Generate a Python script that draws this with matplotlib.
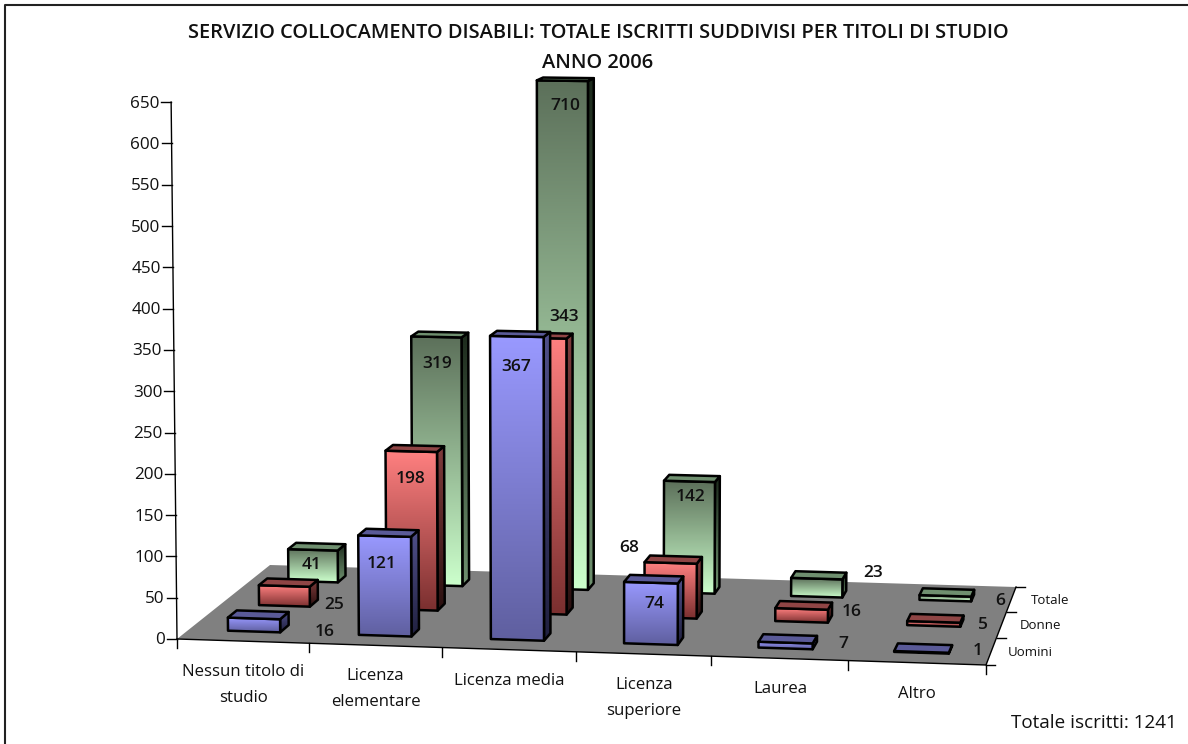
import matplotlib
matplotlib.use('Agg')
import matplotlib.pyplot as plt
from matplotlib.colors import to_rgb
from matplotlib.patches import Polygon
import numpy as np

# Chart values
categories = ['Nessun titolo di\nstudio', 'Licenza\nelementare', 'Licenza media',
              'Licenza\nsuperiore', 'Laurea', 'Altro']
series_names = ['Uomini', 'Donne', 'Totale']
uomini = [16, 121, 367, 74, 7, 1]
donne = [25, 198, 343, 68, 16, 5]
totale = [41, 319, 710, 142, 23, 6]
y_ticks = list(range(0, 651, 50))
axis_max = 650
total_note = 'Totale iscritti: 1241'
title_lines = ['SERVIZIO COLLOCAMENTO DISABILI: TOTALE ISCRITTI SUDDIVISI PER TITOLI DI STUDIO',
               'ANNO 2006']

# Label positions, in picture pixels
label_xy_uomini = [(325, 632), (382, 564), (516, 367), (654, 604), (843, 644), (978, 651)]
label_xy_donne = [(334, 605), (411, 479), (564, 317), (629, 548), (852, 612), (983, 625)]
label_xy_totale = [(312, 565), (437, 364), (565, 106), (691, 497), (873, 573), (1000, 601)]

# Face colours: front top/bottom, side top/bottom, top face
styles = {
    'Uomini': ('#9999ff', '#5f5f9f', '#50508a', '#20203f', '#5a5a98'),
    'Donne': ('#ff8080', '#7a2f2f', '#803c3c', '#2a1010', '#8f4545'),
    'Totale': ('#5c705a', '#ccffcc', '#1c2a1c', '#6f916f', '#6f8f6f'),
}

FONT = 'Open Sans'
plt.rcParams['font.family'] = [FONT, 'DejaVu Sans']

# Floor corners of the 3D box, (u, v) -> picture pixels
floor_uv = [(0, 0), (6, 0), (6, 3), (0, 3)]
floor_px = [(177, 639), (986, 665), (1016, 587), (270, 565)]


def fit_floor(uv, px):
    rows, rhs = [], []
    for (u, v), (x, y) in zip(uv, px):
        rows.append([u, v, 1, 0, 0, 0, -u * x, -v * x])
        rows.append([0, 0, 0, u, v, 1, -u * y, -v * y])
        rhs += [x, y]
    return np.append(np.linalg.solve(np.array(rows, float), np.array(rhs, float)), 1).reshape(3, 3)


H = fit_floor(floor_uv, floor_px)


# Category/series position and value to pixels
def project(u, v, h=0):
    x, y, w = H @ np.array([u, v, 1.0])
    x, y = x / w, y / w
    return (x + (x - 590) * 0.0142 * h / axis_max, y - h * 0.826 / w)


def gradient_face(ax, poly, top, bottom, z):
    poly = np.array(poly)
    c0, c1 = np.array(to_rgb(top)), np.array(to_rgb(bottom))
    t = np.linspace(0, 1, 128)[:, None, None]
    grad = c0[None, None, :] * (1 - t) + c1[None, None, :] * t
    im = ax.imshow(grad, extent=(poly[:, 0].min(), poly[:, 0].max(), poly[:, 1].max(), poly[:, 1].min()),
                   aspect='auto', interpolation='bilinear', zorder=z)
    im.set_clip_path(Polygon(poly, transform=ax.transData))
    ax.add_patch(Polygon(poly, closed=True, fill=False, edgecolor='black', linewidth=1.8,
                         joinstyle='round', zorder=z + 0.5))


def draw_bar(ax, cat, ser, value, style, z):
    h = min(value, axis_max)
    u0, u1 = cat + 0.30, cat + 0.70
    v0, v1 = ser + 0.36, ser + 0.64
    front = [project(u0, v0, h), project(u1, v0, h), project(u1, v0), project(u0, v0)]
    side = [project(u1, v0, h), project(u1, v1, h), project(u1, v1), project(u1, v0)]
    top = [project(u0, v0, h), project(u0, v1, h), project(u1, v1, h), project(u1, v0, h)]
    gradient_face(ax, side, style[2], style[3], z)
    gradient_face(ax, front, style[0], style[1], z + 1)
    ax.add_patch(Polygon(top, closed=True, facecolor=style[4], edgecolor='black', linewidth=1.8,
                         joinstyle='round', zorder=z + 2))


def main():
    fig = plt.figure(figsize=(11.88, 7.44), dpi=100)
    ax = fig.add_axes([0, 0, 1, 1])
    ax.set_axis_off()

    # Outer frame, only the top and left sides fall inside the picture
    ax.plot([5, 5, 1188], [744, 5, 5], color='#222222', lw=1.5, zorder=1)

    # Floor
    ax.add_patch(Polygon(floor_px, closed=True, facecolor='#808080', edgecolor='none', zorder=2))
    ax.plot(*zip(floor_px[0], floor_px[1], floor_px[2]), color='black', lw=1.0, zorder=3)

    # Value axis
    ax.plot(*zip(project(0, 0), project(0, 0, axis_max)), color='black', lw=1.0, zorder=3)
    for tick in y_ticks:
        x, y = project(0, 0, tick)
        ax.plot([x - 10, x], [y, y], color='black', lw=1.0, zorder=3)
        ax.text(x - 12, y + 1.5, str(tick), ha='right', va='center', fontsize=12.3, color='#111111')

    # Category axis
    for i in range(len(categories) + 1):
        x, y = project(i, 0)
        ax.plot([x, x], [y, y + 9], color='black', lw=1.0, zorder=3)
    for i, name in enumerate(categories):
        x, y = project(i + 0.5, 0)
        for j, line in enumerate(name.split('\n')):
            ax.text(x + 0.5, y + 31 + j * 26, line, ha='center', va='center', fontsize=12.1, color='#111111')

    # Series axis
    for i in range(len(series_names) + 1):
        x, y = project(6, i)
        ax.plot([x, x + 9], [y, y], color='black', lw=1.0, zorder=3)
    for i, name in enumerate(series_names):
        x, y = project(6, i + 0.5)
        ax.text(x + 39, y + 1, name, ha='center', va='center', fontsize=9.5, color='#111111')

    # Bars, from back to front
    rows = [('Totale', totale, 2), ('Donne', donne, 1), ('Uomini', uomini, 0)]
    z = 10
    for name, values, ser in rows:
        for cat, value in enumerate(values):
            draw_bar(ax, cat, ser, value, styles[name], z)
            z += 4

    # Value labels
    for values, positions in [(uomini, label_xy_uomini), (donne, label_xy_donne), (totale, label_xy_totale)]:
        for value, (x, y) in zip(values, positions):
            ax.text(x, y, str(value), ha='center', va='center', fontsize=12.5, color='#111111',
                    fontweight='semibold', zorder=200)

    # Title and note
    for j, line in enumerate(title_lines):
        ax.text(598, 33.5 + j * 29.5, line, ha='center', va='center', fontsize=14.4, color='#111111',
                fontweight='semibold')
    ax.text(1094, 723, total_note, ha='center', va='center', fontsize=13.6, color='#111111')

    ax.set_xlim(0, 1188)
    ax.set_ylim(744, 0)
    fig.savefig('out.png', dpi=100)
    plt.close(fig)


if __name__ == "__main__":
    main()
